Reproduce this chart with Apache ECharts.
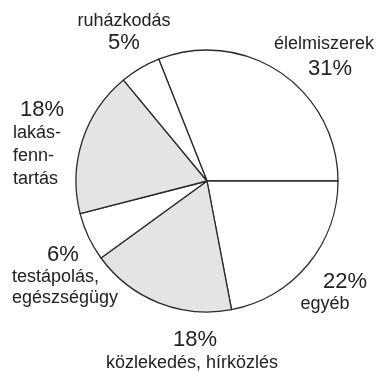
<!DOCTYPE html>
<html>
<head>
<meta charset="utf-8">
<script src="https://cdn.jsdelivr.net/npm/echarts@6/dist/echarts.min.js"></script>
<style>
html,body{margin:0;padding:0;background:#fff;}
#c{width:377px;height:372px;}
</style>
</head>
<body>
<div id="c"></div>
<script>
// Data (clockwise order starting at the élelmiszerek slice)
var categories = ['élelmiszerek', 'egyéb', 'közlekedés, hírközlés', 'testápolás, egészségügy', 'lakásfenntartás', 'ruházkodás'];
var values = [31, 22, 18, 6, 18, 5];
var shaded = [false, false, true, false, true, false];
// Label text lines as printed
var labelLines = [
  ['élelmiszerek'],
  ['egyéb'],
  ['közlekedés, hírközlés'],
  ['testápolás,', 'egészségügy'],
  ['lakás-', 'fenn-', 'tartás'],
  ['ruházkodás']
];

// Layout (positions only)
var pctPos = [[330, 69], [345, 282], [195, 340], [63, 255], [42, 110], [124, 43]];
var namePos = [[324, 44], [325, 304], [192, 363], [12, 277], [13, 133], [124, 21]];
var nameAlign = ['center', 'center', 'center', 'left', 'left', 'center'];
var lineGap = [0, 0, 0, 21, 23, 0];

var chart = echarts.init(document.getElementById('c'), null, {renderer: 'canvas'});
var total = values.reduce(function (a, b) { return a + b; }, 0);
// first slice ends at 3 o'clock
var startAngle = values[0] / total * 360;

var graphics = [];
var fontFam = '"Liberation Sans", Arial, sans-serif';
for (var i = 0; i < categories.length; i++) {
  graphics.push({
    type: 'text', x: pctPos[i][0], y: pctPos[i][1], silent: true,
    style: {text: values[i] + '%', font: '22px ' + fontFam, fill: '#222', align: 'center', verticalAlign: 'middle'}
  });
  for (var j = 0; j < labelLines[i].length; j++) {
    graphics.push({
      type: 'text', x: namePos[i][0], y: namePos[i][1] + j * lineGap[i], silent: true,
      style: {text: labelLines[i][j], font: '18px ' + fontFam, fill: '#222', align: nameAlign[i], verticalAlign: 'middle'}
    });
  }
}

chart.setOption({
  animation: false,
  backgroundColor: '#fff',
  series: [{
    type: 'pie',
    center: [207, 181],
    radius: [0, 131],
    startAngle: startAngle,
    clockwise: true,
    silent: true,
    label: {show: false},
    labelLine: {show: false},
    itemStyle: {borderColor: '#2a2a2a', borderWidth: 1.3},
    data: categories.map(function (c, i) {
      return {name: c, value: values[i], itemStyle: {color: shaded[i] ? '#e4e4e4' : '#ffffff'}};
    })
  }],
  graphic: graphics
});
</script>
</body>
</html>
